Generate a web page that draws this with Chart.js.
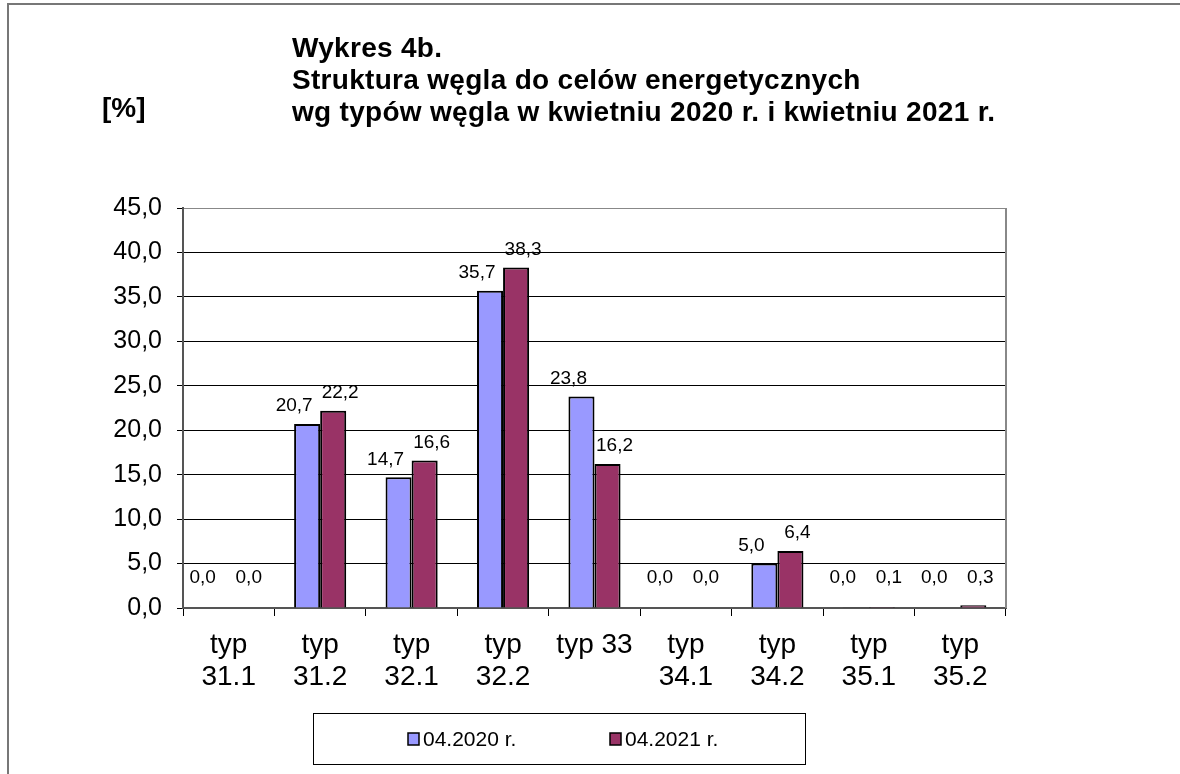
<!DOCTYPE html>
<html>
<head>
<meta charset="utf-8">
<title>Wykres 4b</title>
<script src="https://cdn.jsdelivr.net/npm/chart.js@4.4.0/dist/chart.umd.min.js"></script>
<style>
  body { margin: 0; background: #fff; }
  #wrap { position: relative; width: 1180px; height: 774px; overflow: hidden; }
  #frame { position: absolute; left: 7px; top: 3px; width: 1200px; height: 800px;
           border-left: 2px solid #777; border-top: 2px solid #777; }
  .bold { position: absolute; font: bold 28px "Liberation Sans", Arial, sans-serif;
          line-height: 32px; color: #000; white-space: nowrap; }
  #title { left: 292px; top: 32px; letter-spacing: 0.3px; }
  #unit { left: 102px; top: 92px; }
  canvas { position: absolute; left: 0; top: 0; }
</style>
</head>
<body>
<div id="wrap">
  <div id="frame"></div>
  <canvas id="myChart" width="1180" height="774"></canvas>
  <div id="title" class="bold">Wykres 4b.<br>Struktura węgla do celów energetycznych<br>wg typów węgla w kwietniu 2020 r. i kwietniu 2021 r.</div>
  <div id="unit" class="bold">[%]</div>
</div>
<script>
'use strict';

// categories (two-line labels as arrays)
let categories = [
  ['typ', '31.1'],
  ['typ', '31.2'],
  ['typ', '32.1'],
  ['typ', '32.2'],
  'typ 33',
  ['typ', '34.1'],
  ['typ', '34.2'],
  ['typ', '35.1'],
  ['typ', '35.2']
];

let seriesNames = ['04.2020 r.', '04.2021 r.'];
let values2020 = [0.0, 20.7, 14.7, 35.7, 23.8, 0.0, 5.0, 0.04, 0.0];
let values2021 = [0.0, 22.2, 16.6, 38.3, 16.2, 0.0, 6.4, 0.1, 0.3];
let seriesColors = ['#9999FF', '#993366'];

// y axis ticks
let yMin = 0;
let yMax = 45;
let yStep = 5;

let fontFamily = '"Liberation Sans", Arial, sans-serif';
Chart.defaults.font.family = fontFamily;
Chart.defaults.color = '#000';

function fmt(v) {
  return v.toFixed(1).replace('.', ',');
}

// value labels above the bars
const barLabels = {
  id: 'barLabels',
  afterDatasetsDraw(chart) {
    let ctx = chart.ctx;
    let base = chart.chartArea.bottom;
    ctx.save();
    ctx.font = '19px ' + fontFamily;
    ctx.fillStyle = '#000';
    ctx.textAlign = 'center';
    ctx.textBaseline = 'middle';
    chart.data.datasets.forEach((ds, i) => {
      let dx = i === 0 ? -13 : 7;
      chart.getDatasetMeta(i).data.forEach((bar, j) => {
        let y = Math.min(bar.y - 18, base - 30);
        ctx.fillText(fmt(ds.data[j]), bar.x + dx, y);
      });
    });
    ctx.restore();
  }
};

// gray right edge of the plot area
const plotFrame = {
  id: 'plotFrame',
  beforeDatasetsDraw(chart) {
    let a = chart.chartArea;
    let ctx = chart.ctx;
    ctx.save();
    ctx.strokeStyle = '#888';
    ctx.lineWidth = 2;
    ctx.beginPath();
    ctx.moveTo(a.right, a.top);
    ctx.lineTo(a.right, a.bottom);
    ctx.stroke();
    ctx.restore();
  }
};

// boxed legend below the chart
const boxLegend = {
  id: 'boxLegend',
  afterDraw(chart) {
    let ctx = chart.ctx;
    let itemX = [408, 610];
    ctx.save();
    ctx.strokeStyle = '#000';
    ctx.lineWidth = 1;
    ctx.strokeRect(313.5, 713.5, 492, 51);
    ctx.font = '21px ' + fontFamily;
    ctx.textBaseline = 'middle';
    ctx.textAlign = 'left';
    chart.data.datasets.forEach((ds, i) => {
      ctx.fillStyle = ds.backgroundColor;
      ctx.fillRect(itemX[i], 733, 11, 12);
      ctx.lineWidth = 1.5;
      ctx.strokeRect(itemX[i], 733, 11, 12);
      ctx.fillStyle = '#000';
      ctx.fillText(ds.label, itemX[i] + 15, 740);
    });
    ctx.restore();
  }
};

let ctx = document.getElementById('myChart').getContext('2d');

let myChart = new Chart(ctx, {
  type: 'bar',
  data: {
    labels: categories,
    datasets: [{
      label: seriesNames[0],
      data: values2020,
      backgroundColor: seriesColors[0],
      borderColor: '#000',
      borderWidth: 2
    },
    {
      label: seriesNames[1],
      data: values2021,
      backgroundColor: seriesColors[1],
      borderColor: '#000',
      borderWidth: 2
    }]
  },
  options: {
    responsive: false,
    animation: false,
    devicePixelRatio: 1,
    datasets: {
      bar: { categoryPercentage: 0.57, barPercentage: 1.0 }
    },
    layout: { padding: { left: 0, right: 174, top: 208, bottom: 0 } },
    plugins: {
      legend: { display: false },
      title: { display: false },
      tooltip: { enabled: false }
    },
    scales: {
      x: {
        afterFit(scale) { scale.height = 166; },
        grid: {
          display: true,
          drawOnChartArea: false,
          tickLength: 8,
          color: '#000',
          tickColor: '#000'
        },
        border: { display: true, color: '#555', width: 2 },
        ticks: {
          font: { size: 28, lineHeight: 1.15 },
          color: '#000',
          padding: 13,
          maxRotation: 0,
          autoSkip: false
        }
      },
      y: {
        min: yMin,
        max: yMax,
        afterFit(scale) { scale.width = 183; },
        grid: {
          color: (c) => (c.tick && c.tick.value === yMax ? '#888' : '#000'),
          tickColor: '#000',
          tickLength: 6
        },
        border: { display: true, color: '#555', width: 2 },
        ticks: {
          stepSize: yStep,
          font: { size: 25 },
          color: '#000',
          padding: 15,
          callback: (v) => fmt(v)
        }
      }
    }
  },
  plugins: [barLabels, plotFrame, boxLegend]
});
</script>
</body>
</html>
